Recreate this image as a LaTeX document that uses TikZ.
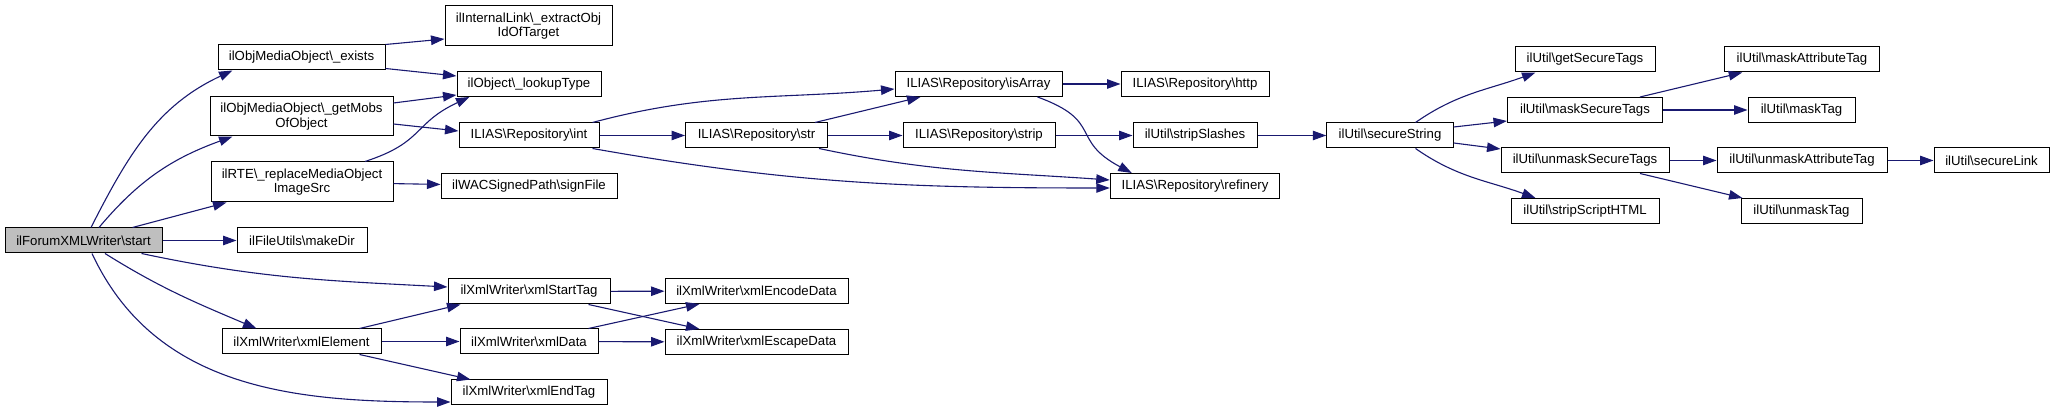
\documentclass[tikz,border=0pt]{standalone}
\usepackage{fontspec}
\setmainfont{Liberation Sans}
\usetikzlibrary{arrows.meta}
\definecolor{edgeblue}{HTML}{191970}
\definecolor{rootgrey}{HTML}{BFBFBF}

\begin{document}
\begin{tikzpicture}[x=1pt,y=1pt,
    fn/.style={draw=black,line width=1pt,fill=white,inner sep=2pt,minimum height=25pt,align=center,font=\fontsize{13.2}{14.5}\selectfont},
    call/.style={draw=edgeblue,line width=1.1pt,-{Triangle[length=13.5pt,width=9.5pt]}}]
    \useasboundingbox (0,0) rectangle (2055,411);
    \node[fn,fill=rootgrey,minimum width=157pt] (st) at (83.5,170.5) {ilForumXMLWriter\textbackslash start};
    \node[fn,minimum width=167pt] (ex) at (301.5,353.5) {ilObjMediaObject\textbackslash\_exists};
    \node[fn,minimum width=183pt,minimum height=39pt] (gm) at (301.5,294.5) {ilObjMediaObject\textbackslash\_getMobs\\OfObject};
    \node[fn,minimum width=182pt,minimum height=40pt] (rp) at (302,229) {ilRTE\textbackslash\_replaceMediaObject\\ImageSrc};
    \node[fn,minimum width=130pt] (md) at (302,170.5) {ilFileUtils\textbackslash makeDir};
    \node[fn,minimum width=159pt] (xe) at (301.5,69.5) {ilXmlWriter\textbackslash xmlElement};
    \node[fn,minimum width=167pt,minimum height=40pt] (eo) at (528.5,385) {ilInternalLink\textbackslash\_extractObj\\IdOfTarget};
    \node[fn,minimum width=144pt] (lt) at (529,327) {ilObject\textbackslash\_lookupType};
    \node[fn,minimum width=140pt] (int) at (529,275.5) {ILIAS\textbackslash Repository\textbackslash int};
    \node[fn,minimum width=176pt] (sf) at (529,225) {ilWACSignedPath\textbackslash signFile};
    \node[fn,minimum width=162pt] (xst) at (529,119.5) {ilXmlWriter\textbackslash xmlStartTag};
    \node[fn,minimum width=138pt] (xd) at (529,69.5) {ilXmlWriter\textbackslash xmlData};
    \node[fn,minimum width=156pt] (xet) at (529,18.5) {ilXmlWriter\textbackslash xmlEndTag};
    \node[fn,minimum width=142pt] (str) at (756.5,275.5) {ILIAS\textbackslash Repository\textbackslash str};
    \node[fn,minimum width=183pt] (xenc) at (756.5,120) {ilXmlWriter\textbackslash xmlEncodeData};
    \node[fn,minimum width=183pt] (xesc) at (756.5,69) {ilXmlWriter\textbackslash xmlEscapeData};
    \node[fn,minimum width=167pt] (ia) at (978.5,327) {ILIAS\textbackslash Repository\textbackslash isArray};
    \node[fn,minimum width=152pt] (strp) at (979,275.5) {ILIAS\textbackslash Repository\textbackslash strip};
    \node[fn,minimum width=148pt] (http) at (1195,327) {ILIAS\textbackslash Repository\textbackslash http};
    \node[fn,minimum width=124pt] (ssl) at (1195,275.5) {ilUtil\textbackslash stripSlashes};
    \node[fn,minimum width=169.5pt] (rf) at (1195,225) {ILIAS\textbackslash Repository\textbackslash refinery};
    \node[fn,minimum width=126.5pt] (ss) at (1390,275.5) {ilUtil\textbackslash secureString};
    \node[fn,minimum width=140pt] (gst) at (1585,351.5) {ilUtil\textbackslash getSecureTags};
    \node[fn,minimum width=155pt] (mst) at (1585,301) {ilUtil\textbackslash maskSecureTags};
    \node[fn,minimum width=168pt] (ust) at (1585,250.5) {ilUtil\textbackslash unmaskSecureTags};
    \node[fn,minimum width=148pt] (ssh) at (1585,200) {ilUtil\textbackslash stripScriptHTML};
    \node[fn,minimum width=154.5pt] (mat) at (1802,351.5) {ilUtil\textbackslash maskAttributeTag};
    \node[fn,minimum width=107pt] (mt) at (1801.5,301) {ilUtil\textbackslash maskTag};
    \node[fn,minimum width=170pt] (uat) at (1802,250.5) {ilUtil\textbackslash unmaskAttributeTag};
    \node[fn,minimum width=121pt] (ut) at (1801.5,200) {ilUtil\textbackslash unmaskTag};
    \node[fn,minimum width=115pt] (sl) at (1991.5,250.5) {ilUtil\textbackslash secureLink};
    % calls from the root
    \draw[call] ([xshift=7.5pt]st.north) to[out=63,in=205] ([xshift=15pt]ex.south west);
    \draw[call] ([xshift=15.5pt]st.north) to[out=50,in=200] ([xshift=23pt]gm.south west);
    \draw[call] ([xshift=-30pt]st.north east) -- ([xshift=16pt]rp.south west);
    \draw[call] (st) -- (md);
    \draw[call] ([xshift=-21pt]st.south east) to[out=-12,in=177] ([yshift=4.5pt]xst.west);
    \draw[call] ([xshift=21.5pt]st.south) to[out=-32,in=157] ([xshift=35pt]xe.north west);
    \draw[call] ([xshift=8.5pt]st.south) to[out=-65,in=180] ([yshift=-9.5pt]xet.west);
    % second column
    \draw[call] (ex.north east) -- ([yshift=-13pt]eo.west);
    \draw[call] ([yshift=2pt]ex.south east) -- ([yshift=8pt]lt.west);
    \draw[call] ([yshift=13.5pt]gm.east) -- ([yshift=-11pt]lt.west);
    \draw[call] ([yshift=-7.5pt]gm.east) -- ([yshift=4.5pt]int.west);
    \draw[call] ([xshift=63pt]rp.north) to[out=18,in=205,looseness=1.3] ([xshift=13pt]lt.south west);
    \draw[call] (rp) -- (sf);
    \draw[call] ([xshift=-22pt]xe.north east) -- ([xshift=13pt]xst.south west);
    \draw[call] (xe) -- (xd);
    \draw[call] ([xshift=-22pt]xe.south east) -- ([xshift=20pt]xet.north west);
    % repository calls
    \draw[call] ([xshift=-7pt]int.north east) to[out=15,in=185] ([yshift=-5pt]ia.west);
    \draw[call] (int) -- (str);
    \draw[call] ([xshift=-7pt]int.south east) to[out=-10,in=180] ([yshift=-2pt]rf.west);
    \draw[call] ([xshift=-13pt]str.north east) -- ([xshift=26pt]ia.south west);
    \draw[call] (str) -- (strp);
    \draw[call] ([xshift=-9pt]str.south east) to[out=-12,in=176] ([yshift=6pt]rf.west);
    \draw[call] (ia) -- (http);
    \draw[call] ([xshift=-25pt]ia.south east) to[out=-20,in=152,looseness=1.5] ([xshift=22pt]rf.north west);
    \draw[call] (strp) -- (ssl);
    \draw[call] (ssl) -- (ss);
    % ilUtil calls
    \draw[call] ([xshift=25.5pt]ss.north) to[out=35,in=200] ([xshift=21pt]gst.south west);
    \draw[call] ([yshift=8.5pt]ss.east) -- ([yshift=-11pt]mst.west);
    \draw[call] ([yshift=-7.5pt]ss.east) -- ([yshift=11.5pt]ust.west);
    \draw[call] ([xshift=25.5pt]ss.south) to[out=-35,in=160] ([xshift=25pt]ssh.north west);
    \draw[call] ([xshift=-23pt]mst.north east) -- ([xshift=18pt]mat.south west);
    \draw[call] (mst) -- (mt);
    \draw[call] (ust) -- (uat);
    \draw[call] ([xshift=-29.5pt]ust.south east) -- ([xshift=2pt]ut.north west);
    \draw[call] (uat) -- (sl);
    % xml writer calls
    \draw[call] (xst) -- (xenc);
    \draw[call] ([xshift=-22pt]xst.south east) -- ([xshift=35pt]xesc.north west);
    \draw[call] ([xshift=-10pt]xd.north east) -- ([xshift=35pt]xenc.south west);
    \draw[call] (xd) -- (xesc);
\end{tikzpicture}
\end{document}
